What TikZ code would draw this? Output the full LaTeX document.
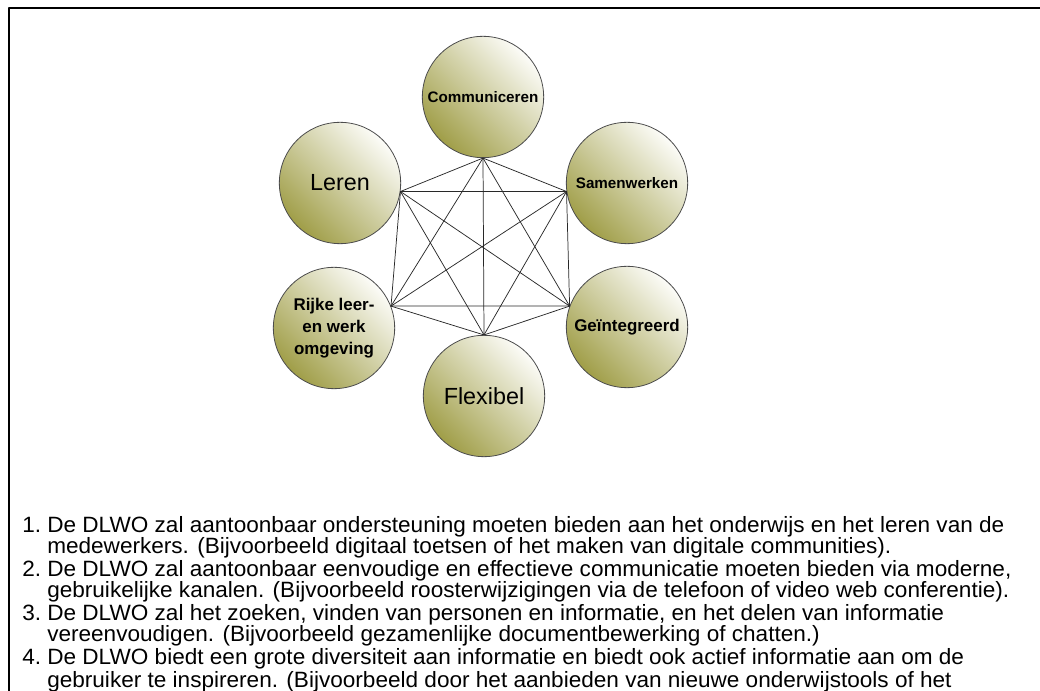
\documentclass[tikz,border=0pt]{standalone}
\usepackage{fontspec}
\setmainfont{Liberation Sans}
\newfontfamily\listfont[FakeStretch=1.02]{Liberation Sans}
\definecolor{olivedk}{RGB}{160,158,72}
\definecolor{olivelt}{RGB}{252,252,248}
\definecolor{linkgray}{RGB}{40,40,40}
\tikzset{
  bol/.style={circle,draw=black!70,line width=0.6pt,minimum size=91pt,inner sep=0pt,
    top color=olivelt,bottom color=olivedk,shading angle=-45,align=center},
  groot/.style={font=\fontsize{17.5}{20}\selectfont},
  vet/.style={font=\fontsize{12.7}{16.3}\selectfont\bfseries},
  vetklein/.style={font=\fontsize{11.4}{14}\selectfont\bfseries},
  link/.style={draw=linkgray,line width=0.55pt},
  regel/.style={anchor=base west,inner sep=0pt,font=\listfont\fontsize{16.6}{16.5}\selectfont}
}
\begin{document}
\begin{tikzpicture}[x=0.75pt,y=-0.75pt,line join=round,line cap=round]
\useasboundingbox[fill=white] (0,0) rectangle (1040,691);
\draw[line width=2.2pt] (9,8) rectangle (1100,760);
\node[bol,vetklein] (comm) at (483,97) {Communiceren};
\node[bol,groot] (leren) at (340,183) {Leren};
\node[bol,vetklein] (samen) at (627,183) {Samenwerken};
\node[bol,vet] (rijke) at (334,328) {Rijke leer-\\en werk\\omgeving};
\node[bol,vet] (geint) at (627,327) {Geïntegreerd};
\node[bol,groot] (flex) at (484,396) {Flexibel};
\foreach \a/\b in {comm.south/leren.-8,comm.south/samen.188,comm.south/rijke.21,comm.south/geint.160,comm.south/flex.north,
  leren.-8/samen.188,leren.-8/rijke.21,leren.-8/geint.160,leren.-8/flex.north,
  samen.188/rijke.21,samen.188/geint.160,samen.188/flex.north,
  rijke.21/geint.160,rijke.21/flex.north,geint.160/flex.north}
  \draw[link] (\a) -- (\b);
\foreach \y/\n in {533/1,577/2,621/3,665/4}
  \node[regel] (nr\n) at (22,\y) {\n.};
\foreach \y/\t [count=\k] in {533/{De DLWO zal aantoonbaar ondersteuning moeten bieden aan het onderwijs en het leren van de},
  554/{medewerkers. (Bijvoorbeeld digitaal toetsen of het maken van digitale communities).},
  577/{De DLWO zal aantoonbaar eenvoudige en effectieve communicatie moeten bieden via moderne,},
  598/{gebruikelijke kanalen. (Bijvoorbeeld roosterwijzigingen via de telefoon of video web conferentie).},
  621/{De DLWO zal het zoeken, vinden van personen en informatie, en het delen van informatie},
  642/{vereenvoudigen. (Bijvoorbeeld gezamenlijke documentbewerking of chatten.)},
  665/{De DLWO biedt een grote diversiteit aan informatie en biedt ook actief informatie aan om de},
  687/{gebruiker te inspireren. (Bijvoorbeeld door het aanbieden van nieuwe onderwijstools of het}}
  \node[regel] (r\k) at (47,\y) {\t};
\end{tikzpicture}
\end{document}
